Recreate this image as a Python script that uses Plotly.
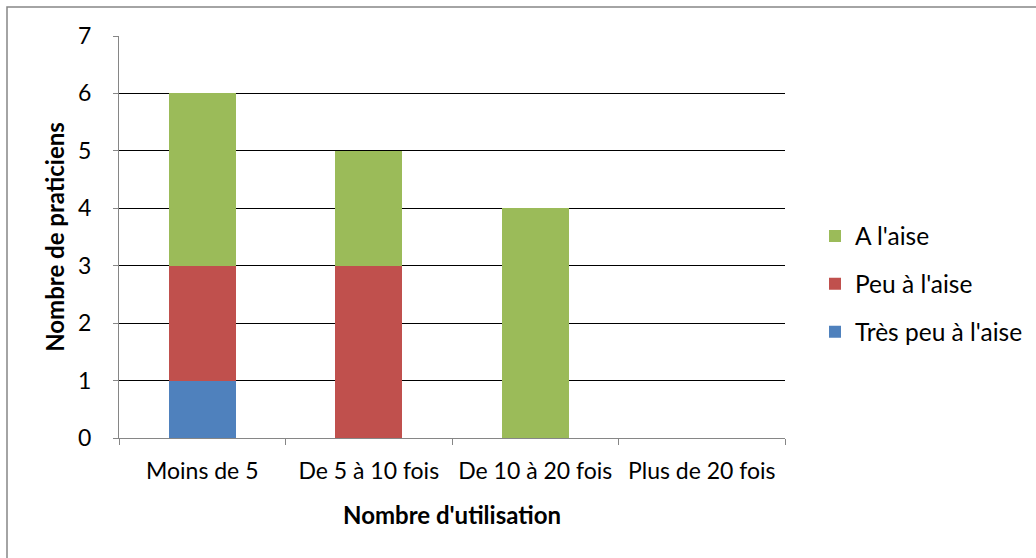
import plotly.graph_objects as go

categories = ["Moins de 5", "De 5 à 10 fois", "De 10 à 20 fois", "Plus de 20 fois"]
tres_peu = [1, 0, 0, 0]
peu = [2, 3, 0, 0]
a_l_aise = [3, 2, 4, 0]
series_names = ["Très peu à l'aise", "Peu à l'aise", "A l'aise"]
series_colors = ["#4F81BD", "#C0504D", "#9BBB59"]
legend_ranks = [3, 2, 1]
y_ticks = [0, 1, 2, 3, 4, 5, 6, 7]

FONT = "Lato, 'Open Sans', sans-serif"

fig = go.Figure()
for name, vals, col, rk in zip(series_names, [tres_peu, peu, a_l_aise], series_colors, legend_ranks):
    fig.add_trace(go.Bar(
        x=categories, y=vals, name=name, legendgroup=name, legendrank=rk,
        marker=dict(color=col, line=dict(width=0)),
    ))

W, H = 1036, 558
L, R, T, B = 119, 251, 36, 120
pw, ph = W - L - R, H - T - B

def px2x(px):
    return (px - L) / pw

def px2y(py):
    return (H - B - py) / ph

fig.update_layout(
    width=W, height=H,
    margin=dict(l=L, r=R, t=T, b=B, pad=0, autoexpand=False),
    barmode="stack", bargap=0.6,
    plot_bgcolor="white", paper_bgcolor="white",
    font=dict(family=FONT, size=23, color="#000000"),
    showlegend=True,
    legend=dict(
        x=px2x(815), y=px2y(284), xanchor="left", yanchor="middle",
        traceorder="grouped", tracegroupgap=13,
        font=dict(size=24.5), bgcolor="rgba(0,0,0,0)",
        itemwidth=30,
    ),
    xaxis=dict(
        automargin=False,
        showline=True, linecolor="#868686", linewidth=1,
        ticks="outside", ticklen=6, tickcolor="#868686", tickson="boundaries",
        showgrid=False, zeroline=False, tickangle=0,
        ticklabelstandoff=12,
        title=dict(text="<b>Nombre d'utilisation</b>", font=dict(size=24), standoff=24),
        tickfont=dict(size=23),
    ),
    yaxis=dict(
        automargin=False,
        range=[0, 7], tickvals=y_ticks,
        showline=True, linecolor="#868686", linewidth=1,
        ticks="outside", ticklen=5, tickcolor="#868686",
        showgrid=True, gridcolor="#000000", gridwidth=1,
        zeroline=False,
        ticklabelstandoff=17,
        title=dict(text="<b>Nombre de praticiens</b>", font=dict(size=24), standoff=6),
        tickfont=dict(size=23),
    ),
    shapes=[dict(
        type="rect", xref="paper", yref="paper",
        x0=px2x(7), x1=px2x(1045), y0=px2y(7), y1=px2y(565),
        line=dict(color="#868686", width=1.5), fillcolor="rgba(0,0,0,0)", layer="below",
    )],
)

fig.write_html("out.html")
